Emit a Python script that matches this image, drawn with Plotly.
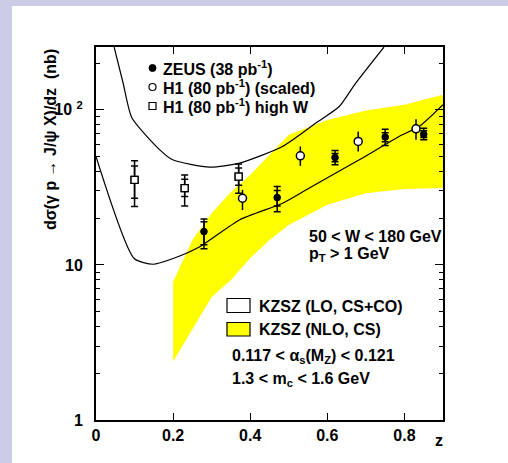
import plotly.graph_objects as go

# ---------------- data ----------------
zeus_z = [0.28, 0.47, 0.62, 0.75, 0.85]
zeus_y = [16.4, 27.2, 49.2, 66.7, 69.7]
zeus_tot_up = [3.4, 4.8, 5.4, 8.3, 6.3]
zeus_tot_dn = [3.7, 5.2, 5.0, 7.8, 5.7]
zeus_stat_up = [2.6, 3.0, 3.0, 4.5, 3.5]
zeus_stat_dn = [2.9, 3.2, 3.0, 4.5, 3.5]

h1s_z = [0.38, 0.53, 0.68, 0.83]
h1s_y = [26.9, 50.5, 62.5, 75.4]
h1s_up = [3.6, 7.5, 9.9, 11.6]
h1s_dn = [4.3, 7.0, 8.7, 11.4]

h1w_z = [0.10, 0.23, 0.37]
h1w_y = [35.3, 31.3, 37.1]
h1w_tot_up = [11.6, 6.7, 7.7]
h1w_tot_dn = [11.5, 7.3, 8.1]
h1w_stat_up = [8.2, 4.4, 5.0]
h1w_stat_dn = [8.4, 3.7, 4.5]

# KZSZ LO (CS+CO) band boundaries (lines)
lo_up_z = [0.047, 0.07, 0.093, 0.1655, 0.199, 0.295, 0.372, 0.4836, 0.571, 0.631, 0.674, 0.747]
lo_up_y = [254, 150, 88.8, 55.2, 47.6, 42.7, 45.3, 58.0, 82.4, 105, 149, 254]
lo_dn_z = [0.0, 0.099, 0.148, 0.2, 0.269, 0.372, 0.484, 0.55, 0.683, 0.786, 0.838, 0.9]
lo_dn_y = [50.0, 11.0, 10.1, 11.0, 13.1, 19.5, 25.0, 31.0, 47.6, 67.3, 78.0, 108]

# KZSZ NLO (CS) band (yellow)
nlo_z = [0.2, 0.25, 0.3, 0.35, 0.4, 0.45, 0.5, 0.6, 0.7, 0.8, 0.9]
nlo_hi = [7.8, 14.5, 21.5, 29.5, 38.0, 51.0, 69.0, 86.0, 99.0, 108.0, 125.0]
nlo_lo = [2.38, 3.88, 6.2, 8.0, 11.1, 14.5, 18.1, 24.4, 29.0, 30.9, 31.3]

x_tickvals = [0, 0.2, 0.4, 0.6, 0.8]
x_ticktext = ["0", "0.2", "0.4", "0.6", "0.8"]
y_tickvals = [1, 10, 100]
y_ticktext = ["1", "10", "10 <sup>2</sup>"]
y_minor = [2, 3, 4, 5, 6, 7, 8, 9, 20, 30, 40, 50, 60, 70, 80, 90, 200]

FONT = "Liberation Sans, Arial, Helvetica, sans-serif"
FS = 16

fig = go.Figure()

# yellow NLO band
fig.add_trace(go.Scatter(
    x=nlo_z + nlo_z[::-1], y=nlo_hi + nlo_lo[::-1],
    fill="toself", fillcolor="#FFFF00", line=dict(width=0),
    mode="lines", hoverinfo="skip", showlegend=False))

# LO lines
fig.add_trace(go.Scatter(x=lo_up_z, y=lo_up_y, mode="lines",
                         line=dict(color="black", width=1.2, shape="spline", smoothing=0.6),
                         showlegend=False))
fig.add_trace(go.Scatter(x=lo_dn_z, y=lo_dn_y, mode="lines",
                         line=dict(color="black", width=1.2, shape="spline", smoothing=0.6),
                         showlegend=False))

EB = dict(color="black", thickness=1.5, width=3.5)

# H1 high W - total and stat
fig.add_trace(go.Scatter(x=h1w_z, y=h1w_y, mode="markers",
                         marker=dict(symbol="square-open", size=7, color="black", line=dict(width=1.3)),
                         error_y=dict(type="data", array=h1w_tot_up, arrayminus=h1w_tot_dn, **EB),
                         showlegend=False))
fig.add_trace(go.Scatter(x=h1w_z, y=h1w_y, mode="markers",
                         marker=dict(symbol="square", size=7, color="white",
                                     line=dict(width=1.3, color="black")),
                         error_y=dict(type="data", array=h1w_stat_up, arrayminus=h1w_stat_dn, **EB),
                         showlegend=False))

# H1 scaled
fig.add_trace(go.Scatter(x=h1s_z, y=h1s_y, mode="markers",
                         marker=dict(symbol="circle", size=8, color="white",
                                     line=dict(width=1.5, color="black")),
                         error_y=dict(type="data", array=h1s_up, arrayminus=h1s_dn,
                                      color="black", thickness=1.5, width=0),
                         showlegend=False))

# ZEUS
fig.add_trace(go.Scatter(x=zeus_z, y=zeus_y, mode="markers",
                         marker=dict(symbol="circle", size=7, color="black"),
                         error_y=dict(type="data", array=zeus_tot_up, arrayminus=zeus_tot_dn, **EB),
                         showlegend=False))
fig.add_trace(go.Scatter(x=zeus_z, y=zeus_y, mode="markers",
                         marker=dict(symbol="circle", size=7, color="black"),
                         error_y=dict(type="data", array=zeus_stat_up, arrayminus=zeus_stat_dn, **EB),
                         showlegend=False))

W, H = 508, 463
L, R, T, B = 96, 65, 47, 43
pw, ph = W - L - R, H - T - B


def px(x):
    return (x - L) / pw


def py(y):
    return (H - B - y) / ph


annots = []


def txt(x, y, s, size=FS, anchor="left", angle=0):
    annots.append(dict(x=px(x), y=py(y), xref="paper", yref="paper", text=s,
                       showarrow=False, xanchor=anchor, yanchor="middle", textangle=angle,
                       font=dict(family=FONT, size=size, color="black", weight="bold")))


txt(161, 68, "ZEUS (38 pb<sup>-1</sup>)")
txt(161, 87, "H1 (80 pb<sup>-1</sup>) (scaled)")
txt(161, 106, "H1 (80 pb<sup>-1</sup>) high W")
txt(307, 236, "50 &lt; W &lt; 180 GeV")
txt(307, 255, "p<sub>T</sub> &gt; 1 GeV")
txt(257, 306, "KZSZ (LO, CS+CO)")
txt(257, 329, "KZSZ (NLO, CS)")
txt(230, 356, "0.117 &lt; α<sub>s</sub>(M<sub>Z</sub>) &lt; 0.121")
txt(230, 379, "1.3 &lt; m<sub>c</sub> &lt; 1.6 GeV")
txt(439, 440, "z", anchor="center")
txt(50, 140, "dσ(γ p → J/ψ X)/dz  (nb)", anchor="center", angle=-90)

shapes = [
    # lavender frame strips
    dict(type="rect", xref="paper", yref="paper", x0=px(0), x1=px(12), y0=py(0), y1=py(H),
         fillcolor="#CCCCE6", line=dict(width=0), layer="above"),
    dict(type="rect", xref="paper", yref="paper", x0=px(0), x1=px(W), y0=py(0), y1=py(6),
         fillcolor="#CCCCE6", line=dict(width=0), layer="above"),
    # legend glyphs
    dict(type="circle", xref="paper", yref="paper", x0=px(149), x1=px(156), y0=py(64.5), y1=py(71.5),
         fillcolor="black", line=dict(color="black", width=1)),
    dict(type="circle", xref="paper", yref="paper", x0=px(149), x1=px(156), y0=py(83.5), y1=py(90.5),
         fillcolor="white", line=dict(color="black", width=1.2)),
    dict(type="rect", xref="paper", yref="paper", x0=px(149), x1=px(156), y0=py(102.5), y1=py(109.5),
         fillcolor="white", line=dict(color="black", width=1.2)),
    dict(type="rect", xref="paper", yref="paper", x0=px(227), x1=px(250), y0=py(298.5), y1=py(312.5),
         fillcolor="white", line=dict(color="black", width=1.2)),
    dict(type="rect", xref="paper", yref="paper", x0=px(227), x1=px(250), y0=py(322.5), y1=py(336),
         fillcolor="#FFFF00", line=dict(color="black", width=1.2)),
]

fig.update_layout(
    width=W, height=H,
    margin=dict(l=L, r=R, t=T, b=B, pad=0),
    paper_bgcolor="white", plot_bgcolor="white",
    font=dict(family=FONT, size=FS, color="black", weight="bold"),
    showlegend=False,
    annotations=annots,
    shapes=shapes,
    xaxis=dict(range=[0, 0.9], tickvals=x_tickvals, ticktext=x_ticktext,
               ticks="inside", ticklen=7, tickwidth=1.2, tickcolor="black",
               showline=True, linecolor="black", linewidth=2, mirror="ticks",
               showgrid=False, zeroline=False,
               tickfont=dict(family=FONT, size=FS, color="black", weight="bold")),
    yaxis=dict(type="log", range=[0, 2.405], tickvals=y_tickvals, ticktext=y_ticktext,
               ticks="inside", ticklen=8, tickwidth=1.2, tickcolor="black",
               minor=dict(tickvals=y_minor, ticks="inside", ticklen=4, tickwidth=1, tickcolor="black",
                          showgrid=False),
               showline=True, linecolor="black", linewidth=2, mirror="ticks",
               showgrid=False, zeroline=False, ticklabelstandoff=8,
               tickfont=dict(family=FONT, size=FS, color="black", weight="bold")),
)

fig.write_html("out.html", config={"displayModeBar": False},
               post_script="document.body.style.margin='0';document.body.style.overflow='hidden';")
